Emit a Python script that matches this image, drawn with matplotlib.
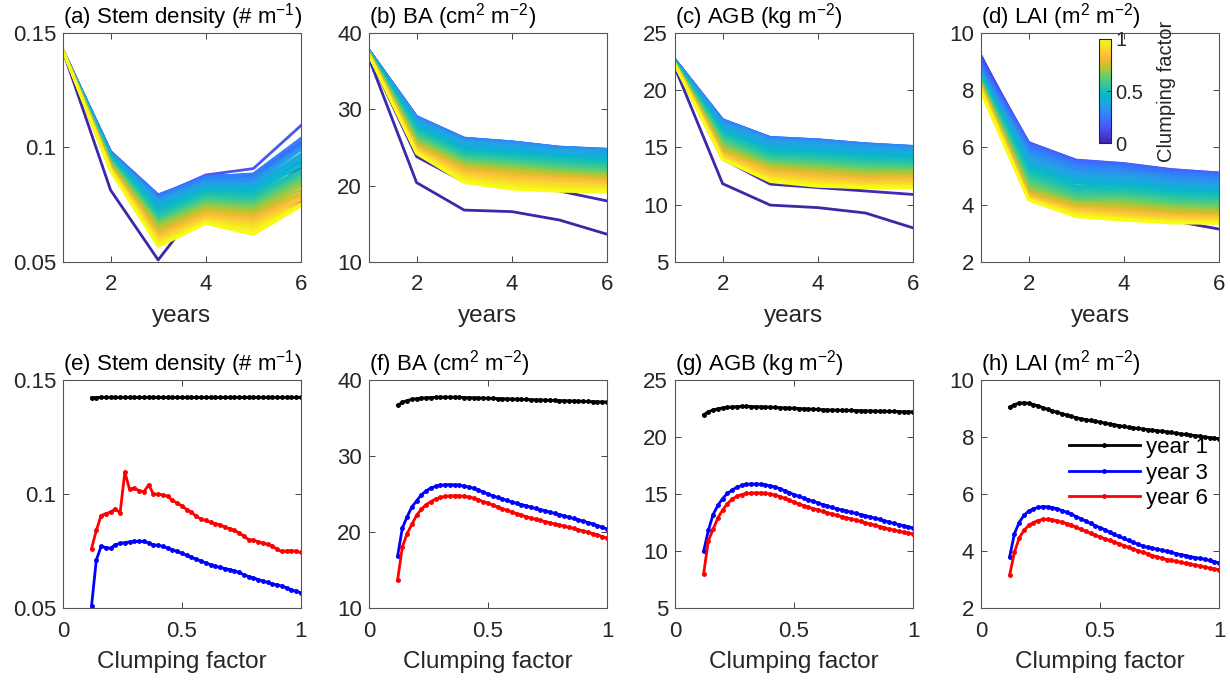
import numpy as np
import matplotlib
matplotlib.use('Agg')
import matplotlib.pyplot as plt
from matplotlib.colors import LinearSegmentedColormap, Normalize
from matplotlib.cm import ScalarMappable

plt.rcParams['font.family'] = ['Liberation Sans', 'DejaVu Sans']
plt.rcParams['mathtext.default'] = 'regular'

# clumping factors 0.12 ... 1.00 (45 runs) and simulation years
clumping = np.round(np.arange(0.12, 1.0001, 0.02), 2)
years = [1, 2, 3, 4, 5, 6]

# Stem density (# m-1), one list per year, one value per clumping factor
stem_y1 = [0.1422, 0.1423, 0.1424, 0.1424, 0.1424, 0.1424, 0.1424, 0.1424, 0.1424, 0.1424,
           0.1424, 0.1424, 0.1424, 0.1424, 0.1424, 0.1424, 0.1424, 0.1424, 0.1424, 0.1424,
           0.1424, 0.1424, 0.1424, 0.1424, 0.1424, 0.1424, 0.1424, 0.1424, 0.1424, 0.1424,
           0.1424, 0.1424, 0.1424, 0.1424, 0.1424, 0.1424, 0.1424, 0.1424, 0.1424, 0.1424,
           0.1424, 0.1424, 0.1424, 0.1424, 0.1424]
stem_y2 = [0.0814, 0.0900, 0.0945, 0.0960, 0.0968, 0.0974, 0.0978, 0.0980, 0.0981, 0.0982,
           0.0982, 0.0981, 0.0980, 0.0978, 0.0976, 0.0974, 0.0972, 0.0969, 0.0966, 0.0963,
           0.0960, 0.0957, 0.0954, 0.0951, 0.0948, 0.0945, 0.0942, 0.0939, 0.0936, 0.0933,
           0.0930, 0.0927, 0.0924, 0.0921, 0.0918, 0.0916, 0.0914, 0.0912, 0.0910, 0.0908,
           0.0906, 0.0904, 0.0902, 0.0900, 0.0898]
stem_y3 = [0.0509, 0.0710, 0.0770, 0.0765, 0.0762, 0.0778, 0.0783, 0.0787, 0.0790, 0.0792,
           0.0793, 0.0792, 0.0785, 0.0777, 0.0775, 0.0770, 0.0763, 0.0756, 0.0748, 0.0740,
           0.0731, 0.0722, 0.0714, 0.0706, 0.0698, 0.0690, 0.0683, 0.0678, 0.0673, 0.0668,
           0.0663, 0.0656, 0.0646, 0.0638, 0.0632, 0.0625, 0.0618, 0.0612, 0.0606, 0.0601,
           0.0596, 0.0588, 0.0580, 0.0573, 0.0567]
stem_y4 = [0.0777, 0.0830, 0.0858, 0.0866, 0.0870, 0.0875, 0.0870, 0.0880, 0.0876, 0.0874,
           0.0872, 0.0868, 0.0870, 0.0860, 0.0855, 0.0850, 0.0843, 0.0836, 0.0829, 0.0822,
           0.0815, 0.0808, 0.0800, 0.0793, 0.0786, 0.0779, 0.0772, 0.0766, 0.0760, 0.0754,
           0.0748, 0.0742, 0.0735, 0.0728, 0.0722, 0.0716, 0.0710, 0.0704, 0.0698, 0.0692,
           0.0686, 0.0682, 0.0678, 0.0673, 0.0668]
stem_y5 = [0.0653, 0.0780, 0.0840, 0.0855, 0.0862, 0.0870, 0.0860, 0.0908, 0.0880, 0.0882,
           0.0875, 0.0870, 0.0885, 0.0866, 0.0858, 0.0850, 0.0842, 0.0834, 0.0826, 0.0818,
           0.0810, 0.0802, 0.0794, 0.0786, 0.0778, 0.0770, 0.0762, 0.0754, 0.0747, 0.0740,
           0.0733, 0.0726, 0.0719, 0.0712, 0.0705, 0.0698, 0.0691, 0.0684, 0.0677, 0.0670,
           0.0663, 0.0656, 0.0645, 0.0632, 0.0620]
stem_y6 = [0.0761, 0.0840, 0.0905, 0.0914, 0.0921, 0.0934, 0.0917, 0.1096, 0.1020, 0.1025,
           0.1015, 0.1010, 0.1040, 0.1000, 0.0999, 0.0996, 0.0990, 0.0972, 0.0960, 0.0948,
           0.0932, 0.0920, 0.0902, 0.0890, 0.0884, 0.0876, 0.0870, 0.0865, 0.0855, 0.0848,
           0.0840, 0.0830, 0.0815, 0.0800, 0.0797, 0.0791, 0.0785, 0.0779, 0.0772, 0.0757,
           0.0748, 0.0750, 0.0752, 0.0748, 0.0744]

# Basal area (cm2 m-2)
ba_y1 = [36.67, 37.05, 37.30, 37.45, 37.55, 37.62, 37.67, 37.70, 37.72, 37.74,
         37.75, 37.75, 37.74, 37.72, 37.70, 37.68, 37.66, 37.64, 37.62, 37.60,
         37.58, 37.56, 37.54, 37.52, 37.50, 37.48, 37.46, 37.44, 37.42, 37.40,
         37.38, 37.36, 37.34, 37.32, 37.30, 37.28, 37.26, 37.24, 37.22, 37.20,
         37.18, 37.16, 37.14, 37.12, 37.10]
ba_y2 = [20.4, 23.8, 25.5, 26.6, 27.4, 28.0, 28.4, 28.7, 28.9, 29.0,
         29.05, 29.05, 29.0, 28.9, 28.8, 28.65, 28.5, 28.3, 28.1, 27.9,
         27.7, 27.5, 27.3, 27.1, 26.9, 26.72, 26.54, 26.36, 26.18, 26.0,
         25.85, 25.7, 25.55, 25.4, 25.25, 25.12, 25.0, 24.88, 24.76, 24.65,
         24.55, 24.45, 24.35, 24.27, 24.2]
ba_y3 = [16.8, 20.5, 22.0, 23.3, 24.1, 24.9, 25.4, 25.8, 26.0, 26.15,
         26.22, 26.23, 26.2, 26.15, 26.05, 25.9, 25.75, 25.5, 25.25, 25.0,
         24.75, 24.55, 24.35, 24.15, 23.95, 23.78, 23.6, 23.45, 23.28, 23.1,
         22.95, 22.8, 22.62, 22.45, 22.3, 22.12, 21.95, 21.78, 21.6, 21.42,
         21.25, 21.05, 20.85, 20.62, 20.4]
ba_y4 = [16.6, 19.8, 21.4, 22.7, 23.5, 24.3, 24.8, 25.2, 25.45, 25.6,
         25.7, 25.75, 25.75, 25.7, 25.6, 25.45, 25.3, 25.05, 24.8, 24.55,
         24.3, 24.1, 23.9, 23.7, 23.5, 23.3, 23.1, 22.92, 22.74, 22.56,
         22.38, 22.2, 22.02, 21.84, 21.66, 21.48, 21.3, 21.12, 20.94, 20.76,
         20.55, 20.3, 20.05, 19.8, 19.55]
ba_y5 = [15.5, 19.3, 20.9, 22.1, 22.9, 23.6, 24.1, 24.5, 24.75, 24.9,
         25.0, 25.05, 25.05, 25.0, 24.92, 24.8, 24.65, 24.45, 24.2, 24.0,
         23.8, 23.6, 23.4, 23.2, 23.0, 22.8, 22.6, 22.4, 22.2, 22.0,
         21.85, 21.7, 21.55, 21.4, 21.25, 21.1, 20.95, 20.8, 20.6, 20.4,
         20.2, 19.95, 19.7, 19.45, 19.25]
ba_y6 = [13.64, 18.0, 19.8, 21.0, 22.2, 23.0, 23.6, 24.0, 24.35, 24.55,
         24.68, 24.75, 24.78, 24.75, 24.7, 24.6, 24.45, 24.25, 24.0, 23.8,
         23.55, 23.3, 23.05, 22.85, 22.62, 22.42, 22.22, 22.03, 21.84, 21.68,
         21.52, 21.37, 21.22, 21.07, 20.92, 20.77, 20.62, 20.47, 20.3, 20.12,
         19.95, 19.78, 19.6, 19.4, 19.2]

# Above-ground biomass (kg m-2)
agb_y1 = [21.96, 22.20, 22.38, 22.48, 22.55, 22.60, 22.64, 22.67, 22.68, 22.68,
          22.67, 22.66, 22.65, 22.64, 22.62, 22.60, 22.58, 22.56, 22.54, 22.52,
          22.50, 22.48, 22.46, 22.44, 22.42, 22.40, 22.38, 22.37, 22.36, 22.35,
          22.34, 22.33, 22.32, 22.31, 22.30, 22.29, 22.28, 22.27, 22.26, 22.25,
          22.24, 22.23, 22.22, 22.22, 22.21]
agb_y2 = [11.84, 14.0, 15.2, 15.9, 16.4, 16.8, 17.05, 17.25, 17.35, 17.4,
          17.43, 17.43, 17.4, 17.33, 17.25, 17.15, 17.02, 16.88, 16.74, 16.6,
          16.46, 16.32, 16.18, 16.04, 15.9, 15.77, 15.64, 15.51, 15.38, 15.25,
          15.12, 15.0, 14.88, 14.77, 14.66, 14.56, 14.46, 14.37, 14.28, 14.2,
          14.13, 14.07, 14.02, 13.98, 13.94]
agb_y3 = [9.97, 11.8, 13.2, 14.0, 14.6, 15.05, 15.35, 15.6, 15.75, 15.84,
          15.88, 15.88, 15.86, 15.8, 15.72, 15.62, 15.48, 15.3, 15.12, 14.95,
          14.8, 14.65, 14.5, 14.36, 14.22, 14.08, 13.95, 13.82, 13.7, 13.6,
          13.5, 13.4, 13.3, 13.2, 13.1, 12.98, 12.88, 12.77, 12.65, 12.53,
          12.42, 12.32, 12.22, 12.12, 12.02]
agb_y4 = [9.75, 11.5, 12.9, 13.75, 14.35, 14.8, 15.1, 15.35, 15.5, 15.6,
          15.66, 15.68, 15.66, 15.6, 15.52, 15.42, 15.28, 15.1, 14.92, 14.75,
          14.6, 14.45, 14.3, 14.16, 14.02, 13.88, 13.74, 13.6, 13.47, 13.35,
          13.23, 13.11, 13.0, 12.89, 12.78, 12.66, 12.54, 12.42, 12.3, 12.18,
          12.06, 11.94, 11.82, 11.7, 11.6]
agb_y5 = [9.28, 11.2, 12.6, 13.45, 14.05, 14.5, 14.8, 15.02, 15.17, 15.26,
          15.31, 15.33, 15.32, 15.27, 15.2, 15.1, 14.97, 14.8, 14.62, 14.45,
          14.3, 14.15, 14.0, 13.86, 13.72, 13.58, 13.44, 13.3, 13.17, 13.05,
          12.93, 12.81, 12.7, 12.59, 12.48, 12.36, 12.24, 12.12, 12.0, 11.9,
          11.8, 11.72, 11.64, 11.56, 11.49]
agb_y6 = [7.98, 10.9, 11.9, 12.9, 13.6, 14.15, 14.55, 14.8, 14.95, 15.05,
          15.08, 15.1, 15.09, 15.05, 15.0, 14.9, 14.78, 14.62, 14.45, 14.28,
          14.12, 13.98, 13.85, 13.72, 13.6, 13.48, 13.36, 13.24, 13.12, 13.02,
          12.92, 12.82, 12.72, 12.6, 12.48, 12.36, 12.25, 12.14, 12.03, 11.92,
          11.82, 11.73, 11.65, 11.57, 11.49]

# Leaf area index (m2 m-2)
lai_y1 = [9.04, 9.14, 9.19, 9.20, 9.18, 9.14, 9.09, 9.03, 8.97, 8.92,
          8.87, 8.82, 8.77, 8.72, 8.68, 8.64, 8.61, 8.58, 8.55, 8.52,
          8.49, 8.46, 8.43, 8.40, 8.37, 8.34, 8.32, 8.30, 8.28, 8.26,
          8.24, 8.22, 8.20, 8.18, 8.16, 8.13, 8.11, 8.09, 8.07, 8.05,
          8.03, 8.00, 7.98, 7.96, 7.93]
lai_y2 = [4.7, 5.4, 5.8, 6.0, 6.1, 6.15, 6.17, 6.17, 6.15, 6.11,
          6.06, 6.0, 5.94, 5.87, 5.8, 5.72, 5.64, 5.56, 5.48, 5.4,
          5.32, 5.24, 5.16, 5.08, 5.0, 4.93, 4.86, 4.79, 4.72, 4.66,
          4.6, 4.54, 4.49, 4.44, 4.4, 4.36, 4.32, 4.29, 4.26, 4.24,
          4.22, 4.2, 4.19, 4.17, 4.16]
lai_y3 = [3.79, 4.6, 5.0, 5.25, 5.4, 5.48, 5.53, 5.56, 5.55, 5.52,
          5.48, 5.42, 5.36, 5.29, 5.21, 5.13, 5.05, 4.97, 4.89, 4.82,
          4.75, 4.66, 4.58, 4.51, 4.44, 4.37, 4.30, 4.24, 4.17, 4.13,
          4.10, 4.06, 4.03, 3.99, 3.95, 3.91, 3.87, 3.84, 3.80, 3.77,
          3.74, 3.71, 3.67, 3.63, 3.58]
lai_y4 = [3.65, 4.45, 4.86, 5.12, 5.27, 5.36, 5.41, 5.44, 5.43, 5.4,
          5.36, 5.31, 5.25, 5.19, 5.12, 5.05, 4.98, 4.91, 4.84, 4.77,
          4.7, 4.63, 4.56, 4.49, 4.43, 4.37, 4.31, 4.25, 4.19, 4.13,
          4.07, 4.02, 3.97, 3.92, 3.87, 3.82, 3.77, 3.72, 3.68, 3.64,
          3.6, 3.56, 3.52, 3.49, 3.46]
lai_y5 = [3.45, 4.25, 4.68, 4.95, 5.1, 5.17, 5.21, 5.23, 5.22, 5.19,
          5.15, 5.1, 5.05, 4.99, 4.92, 4.85, 4.78, 4.71, 4.64, 4.57,
          4.5, 4.44, 4.38, 4.32, 4.26, 4.2, 4.14, 4.08, 4.02, 3.97,
          3.92, 3.87, 3.82, 3.77, 3.72, 3.68, 3.64, 3.6, 3.56, 3.52,
          3.48, 3.45, 3.42, 3.39, 3.36]
lai_y6 = [3.15, 3.95, 4.45, 4.72, 4.9, 5.0, 5.07, 5.11, 5.11, 5.09,
          5.05, 5.01, 4.96, 4.9, 4.83, 4.76, 4.69, 4.62, 4.55, 4.49,
          4.43, 4.37, 4.31, 4.25, 4.19, 4.13, 4.07, 4.01, 3.96, 3.9,
          3.84, 3.79, 3.74, 3.70, 3.67, 3.64, 3.60, 3.57, 3.54, 3.50,
          3.47, 3.44, 3.40, 3.37, 3.35]

panels = [
    ('Stem density (# m$^{-1}$)', [stem_y1, stem_y2, stem_y3, stem_y4, stem_y5, stem_y6],
     [0.05, 0.1, 0.15], ['0.05', '0.1', '0.15']),
    ('BA (cm$^{2}$ m$^{-2}$)', [ba_y1, ba_y2, ba_y3, ba_y4, ba_y5, ba_y6],
     [10, 20, 30, 40], ['10', '20', '30', '40']),
    ('AGB (kg m$^{-2}$)', [agb_y1, agb_y2, agb_y3, agb_y4, agb_y5, agb_y6],
     [5, 10, 15, 20, 25], ['5', '10', '15', '20', '25']),
    ('LAI (m$^{2}$ m$^{-2}$)', [lai_y1, lai_y2, lai_y3, lai_y4, lai_y5, lai_y6],
     [2, 4, 6, 8, 10], ['2', '4', '6', '8', '10']),
]
letters_top = ['a', 'b', 'c', 'd']
letters_bot = ['e', 'f', 'g', 'h']

# MATLAB parula colormap (anchor colours)
parula_anchors = [
    (0.2422, 0.1504, 0.6603), (0.2706, 0.2147, 0.8364), (0.2813, 0.3006, 0.9414),
    (0.2699, 0.3892, 0.9906), (0.1963, 0.4847, 0.9892), (0.1687, 0.5703, 0.9359),
    (0.1248, 0.6459, 0.8883), (0.0297, 0.7082, 0.8163), (0.0964, 0.7500, 0.7120),
    (0.2161, 0.7843, 0.5923), (0.3909, 0.8029, 0.4354), (0.6174, 0.7876, 0.2612),
    (0.8203, 0.7498, 0.1535), (0.9728, 0.7298, 0.2394), (0.9892, 0.8136, 0.1885),
    (0.9597, 0.9135, 0.1423), (0.9769, 0.9839, 0.0805)]
anchor_pos = [0, 4, 8, 12, 16, 20, 24, 28, 32, 36, 40, 44, 48, 52, 56, 60, 63]
parula = LinearSegmentedColormap.from_list(
    'parula', [(p / 63, c) for p, c in zip(anchor_pos, parula_anchors)])

text_col = '#262626'
fig = plt.figure(figsize=(12.3, 6.83), dpi=100)

lefts = [0.0512, 0.3, 0.5488, 0.7976]
w = 0.1935
top_b, top_h = 0.6164, 0.3353
bot_b, bot_h = 0.1098, 0.3338


def style(ax, yticks, ylabels):
    ax.set_yticks(yticks)
    ax.set_yticklabels(ylabels)
    ax.set_ylim(yticks[0], yticks[-1])
    ax.tick_params(direction='in', top=True, right=True, length=4, width=0.6,
                   labelsize=16, colors=text_col)
    ax.tick_params(axis='x', pad=9)
    ax.tick_params(axis='y', pad=5)
    for s in ax.spines.values():
        s.set_color('#555555')
        s.set_linewidth(0.8)


n = len(clumping)
for k, (title, data, yt, yl) in enumerate(panels):
    vals = np.array(data)  # (6 years, n clumping)

    # top row: trajectories over years, coloured by clumping rank
    ax = fig.add_axes([lefts[k], top_b, w, top_h])
    for i in range(n):
        ax.plot(years, vals[:, i], color=parula(i / (n - 1)), lw=2)
    ax.set_xlim(1, 6)
    ax.set_xticks([2, 4, 6])
    ax.set_xticklabels(['2', '4', '6'])
    style(ax, yt, yl)
    ax.set_xlabel('years', fontsize=17.5, color=text_col, labelpad=7)
    ax.text(0, 1.004, '(%s) %s' % (letters_top[k], title), transform=ax.transAxes,
            ha='left', va='bottom', fontsize=16, color='black')

    # bottom row: years 1, 3, 6 against clumping factor
    ax = fig.add_axes([lefts[k], bot_b, w, bot_h])
    ax.plot(clumping, vals[0], '.-', color='black', lw=2, ms=5, label='year 1')
    ax.plot(clumping, vals[2], '.-', color=(0, 0, 1), lw=2, ms=5, label='year 3')
    ax.plot(clumping, vals[5], '.-', color=(1, 0, 0), lw=2, ms=5, label='year 6')
    ax.set_xlim(0, 1)
    ax.set_xticks([0, 0.5, 1])
    ax.set_xticklabels(['0', '0.5', '1'])
    style(ax, yt, yl)
    ax.set_xlabel('Clumping factor', fontsize=17.5, color=text_col, labelpad=7)
    ax.text(0, 1.004, '(%s) %s' % (letters_bot[k], title), transform=ax.transAxes,
            ha='left', va='bottom', fontsize=16, color='black')
    if k == 3:
        ax.legend(loc='center right', bbox_to_anchor=(0.955, 0.592), frameon=False,
                  fontsize=16, handlelength=3.2, handletextpad=0.3,
                  labelspacing=0.2, borderpad=0, borderaxespad=0)

# colorbar inside panel (d)
cax = fig.add_axes([0.8935, 0.7906, 0.00976, 0.1523])
cb = fig.colorbar(ScalarMappable(norm=Normalize(0, 1), cmap=parula), cax=cax)
cb.set_ticks([0, 0.5, 1])
cb.set_ticklabels(['0', '0.5', '1'])
cb.ax.tick_params(labelsize=14.5, colors=text_col, direction='in', length=3, width=0.6, pad=3)
cb.outline.set_linewidth(0.8)
cb.outline.set_edgecolor('#262626')
cb.set_label('Clumping factor', fontsize=14.5, color=text_col, labelpad=10)

fig.savefig('out.png', dpi=100)
